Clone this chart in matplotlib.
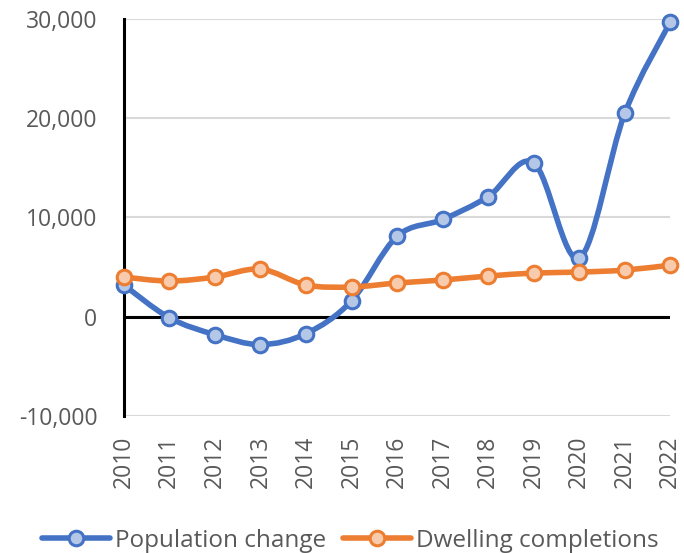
import numpy as np
import matplotlib.pyplot as plt
from matplotlib.path import Path
from matplotlib.patches import PathPatch
from matplotlib.lines import Line2D

# datos
years = [2010, 2011, 2012, 2013, 2014, 2015, 2016, 2017, 2018, 2019, 2020, 2021, 2022]
population_change = [3200, -100, -1800, -2800, -1700, 1600, 8100, 9800, 12100, 15500, 5900, 20500, 29700]
dwelling_completions = [4000, 3600, 4000, 4800, 3200, 3000, 3400, 3700, 4100, 4400, 4500, 4700, 5200]
yticks = [-10000, 0, 10000, 20000, 30000]

BLUE = '#4472C4'
ORANGE = '#ED7D31'
GREY = '#595959'

plt.rcParams['font.family'] = ['Open Sans', 'DejaVu Sans']


def smooth_path(x, y):
    # curva suavizada tipo Excel (Catmull-Rom como Bezier cubico)
    x = np.asarray(x, float)
    y = np.asarray(y, float)
    pts = np.column_stack([x, y])
    n = len(pts)
    verts = [pts[0]]
    codes = [Path.MOVETO]
    for i in range(n - 1):
        p0 = pts[max(i - 1, 0)]
        p1 = pts[i]
        p2 = pts[i + 1]
        p3 = pts[min(i + 2, n - 1)]
        c1 = p1 + (p2 - p0) / 6.0
        c2 = p2 - (p3 - p1) / 6.0
        verts += [c1, c2, p2]
        codes += [Path.CURVE4] * 3
    return Path(verts, codes)


fig = plt.figure(figsize=(6.84, 5.53), dpi=100)
ax = fig.add_axes([0.181, 0.2477, 0.799, 0.718])

series = [
    (population_change, BLUE, '#B4C7E7', 'Population change'),
    (dwelling_completions, ORANGE, '#F8CBAD', 'Dwelling completions'),
]

handles = []
for vals, col, face, label in series:
    patch = PathPatch(smooth_path(years, vals), facecolor='none', edgecolor=col,
                      lw=4.0, capstyle='round', joinstyle='round', zorder=3, clip_on=False)
    ax.add_patch(patch)
    ax.plot(years, vals, ls='none', marker='o', ms=10.5, mfc=face, mec=col, mew=2.2,
            zorder=4, clip_on=False)
    handles.append(Line2D([], [], color=col, lw=4.0, marker='o', ms=10.5, mfc=face,
                          mec=col, mew=2.2, label=label, solid_capstyle='round'))

ax.set_xlim(years[0], years[-1])
ax.set_ylim(-10000, 30000)
ax.set_yticks(yticks)
ax.set_yticklabels([f'{v:,}' for v in yticks])
ax.set_xticks(years)
ax.set_xticklabels([str(y) for y in years], rotation=90)

ax.grid(axis='y', color='#D9D9D9', lw=1.5, zorder=0)
ax.axhline(0, color='black', lw=2.2, zorder=2)
for s in ['top', 'right', 'bottom']:
    ax.spines[s].set_visible(False)
ax.spines['left'].set_color('black')
ax.spines['left'].set_linewidth(2.2)
ax.spines['left'].set_zorder(2)
ax.tick_params(axis='both', length=0, labelsize=16.5, colors=GREY)
ax.tick_params(axis='y', pad=19)
ax.tick_params(axis='x', pad=14)

fig.legend(handles=handles, loc='center', bbox_to_anchor=(0.512, 0.022), ncol=2,
           frameon=False, fontsize=17.5, labelcolor=GREY, handlelength=2.8,
           handletextpad=0.2, columnspacing=0.7, borderpad=0)

fig.savefig('out.png', dpi=100)
